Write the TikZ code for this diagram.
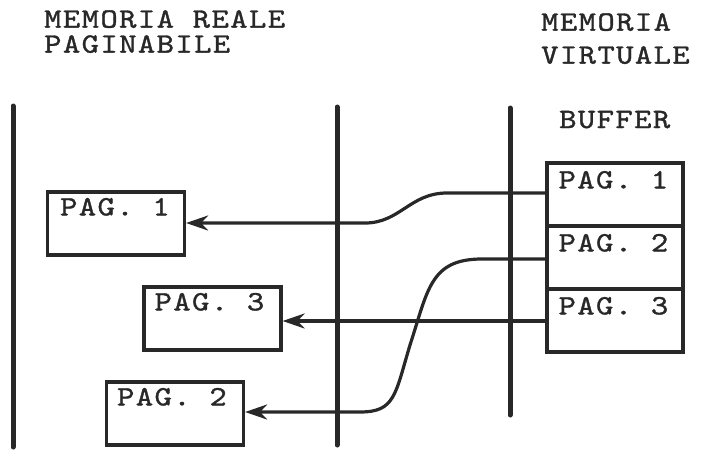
\documentclass[tikz,border=0pt]{standalone}
\usepackage{fontspec}
\newfontfamily\twfam{lmmono10-regular.otf}[FakeStretch=1.18, LetterSpace=5, FakeBold=1.2]
\usetikzlibrary{arrows.meta}
\definecolor{ink}{RGB}{40,40,40}
\newcommand{\twfont}{\twfam\fontsize{28}{32}\selectfont}
\tikzset{
  vline/.style={ink, line width=5pt, line cap=round},
  pagebox/.style={draw=ink, line width=3.2pt, rectangle, minimum width=137pt, minimum height=63pt, inner sep=0pt},
  bufcell/.style={draw=ink, line width=3.2pt, rectangle, minimum width=136pt, minimum height=63pt, inner sep=0pt},
  tw/.style={font=\twfont, text=ink, inner sep=0pt, text height=17pt, text depth=1pt, anchor=base west},
  twtitle/.style={text=ink, inner sep=0pt, align=left, anchor=north west},
  conn/.style={ink, line width=3.2pt, -{Stealth[length=22pt, width=15pt, inset=7pt]}},
}
\begin{document}
\begin{tikzpicture}[x=1pt, y=-1pt]
\useasboundingbox (0,0) rectangle (713,451);
% titles
\node[twtitle, font=\twfam\fontsize{28}{25}\selectfont] (t1) at (44,10) {MEMORIA REALE\\PAGINABILE};
\node[twtitle, font=\twfam\fontsize{28}{33}\selectfont] (t3) at (541,13) {MEMORIA\\VIRTUALE};
\node[tw] (t5) at (559,128) {BUFFER};
% vertical lines
\coordinate (l1t) at (13,106); \coordinate (l1b) at (13,447);
\coordinate (l2t) at (337,107); \coordinate (l2b) at (337,445);
\coordinate (l3t) at (510,108); \coordinate (l3b) at (510,415);
\draw[vline] (l1t) -- (l1b);
\draw[vline] (l2t) -- (l2b);
\draw[vline] (l3t) -- (l3b);
% buffer cells
\node[bufcell] (b1) at (615,194.5) {};
\node[bufcell] (b2) at (615,257.5) {};
\node[bufcell] (b3) at (615,320.5) {};
\node[tw] at ([xshift=13pt,yshift=-27pt]b1.north west) {PAG. 1};
\node[tw] at ([xshift=13pt,yshift=-27pt]b2.north west) {PAG. 2};
\node[tw] at ([xshift=13pt,yshift=-27pt]b3.north west) {PAG. 3};
% real memory pages
\node[pagebox] (p1) at (116,223.5) {};
\node[pagebox] (p3) at (212.5,318.5) {};
\node[pagebox] (p2) at (175,413.5) {};
\node[tw] at ([xshift=14pt,yshift=-25pt]p1.north west) {PAG. 1};
\node[tw] at ([xshift=12pt,yshift=-25pt]p3.north west) {PAG. 3};
\node[tw] at ([xshift=12pt,yshift=-25pt]p2.north west) {PAG. 2};
% connectors
\draw[conn] (b1.west |- 0,193) -- (447,193) .. controls (410,193) and (400,223) .. (365,223) -- (p1.east |- 0,223);
\draw[conn] (b3.west |- 0,321) -- (p3.east |- 0,321);
\draw[conn] (b2.west |- 0,259) -- (482,259) .. controls (430,259) and (428,290) .. (410,345)
  .. controls (395,395) and (395,412) .. (360,412) -- (p2.east |- 0,412);
\end{tikzpicture}
\end{document}
